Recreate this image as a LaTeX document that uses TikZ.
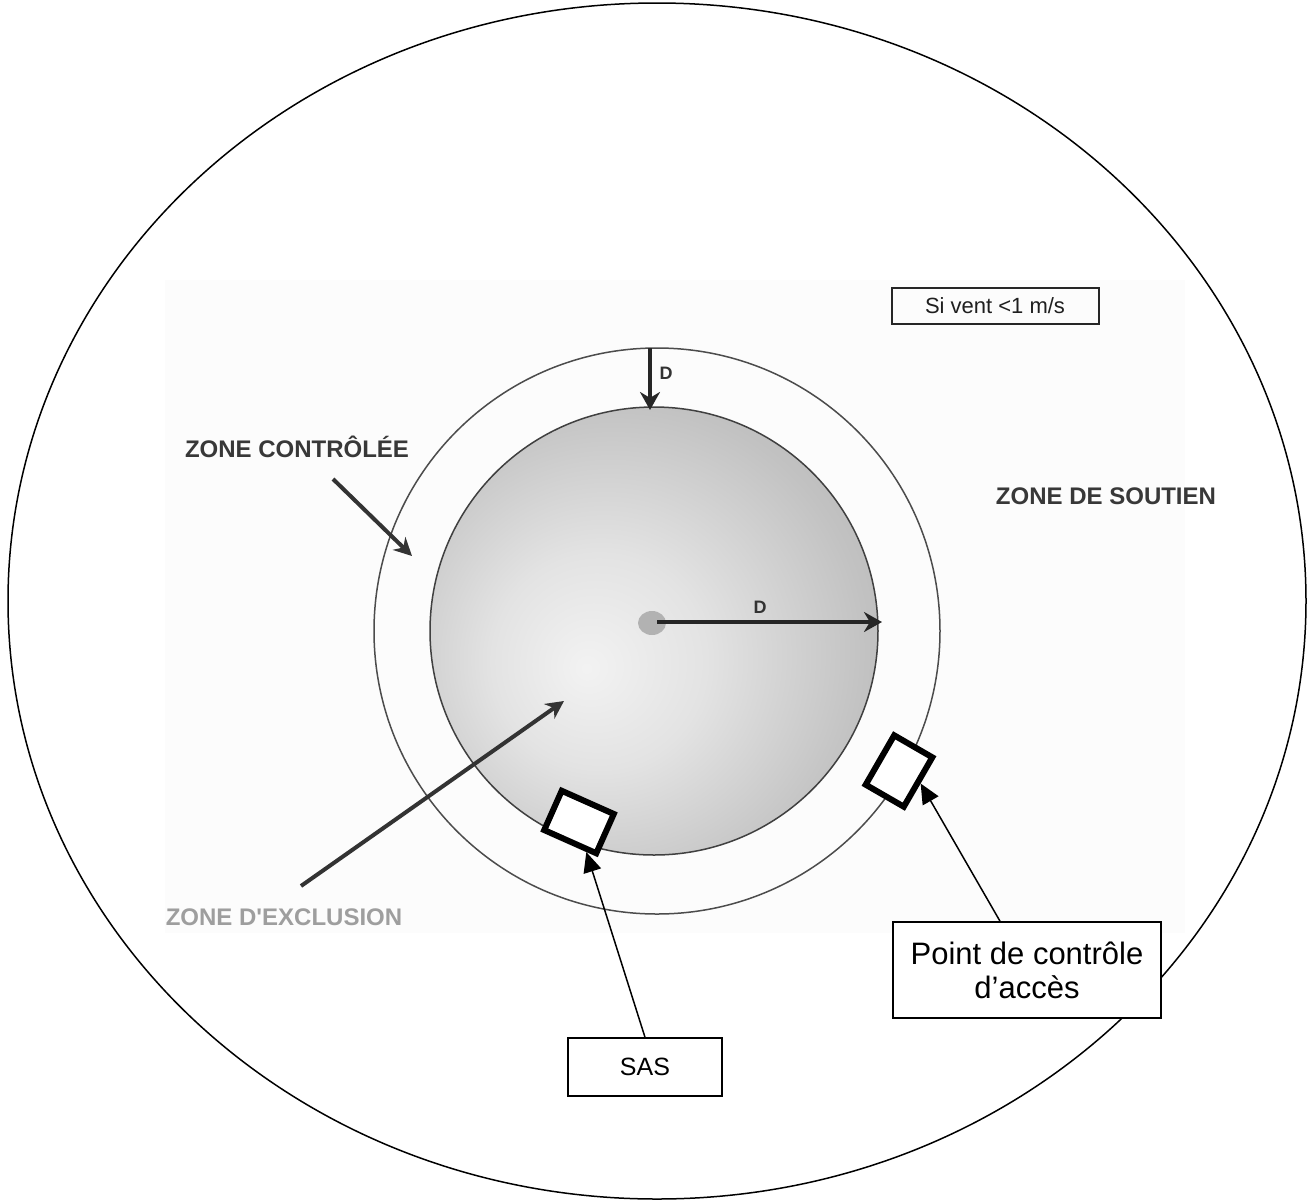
\documentclass[tikz,border=0pt]{standalone}
\usepackage{fontspec}
\setmainfont{Liberation Sans}
\newfontfamily\plainsans{Liberation Sans}
\usetikzlibrary{arrows.meta,calc}
\pgfdeclareradialshading{exclshade}{\pgfpoint{-7.6bp}{-4.2bp}}{color(0bp)=(black!5); color(12bp)=(black!11); color(28bp)=(black!24); color(45bp)=(black!34); color(62bp)=(black!38)}
\begin{document}
\begin{tikzpicture}[x=0.5pt,y=-0.5pt,
  zonelbl/.style={font=\plainsans\bfseries\fontsize{12pt}{14pt}\selectfont, text=black!78, inner sep=0pt},
  dlbl/.style={font=\bfseries\fontsize{9pt}{10pt}\selectfont, text=black!80, inner sep=0pt},
  thickarrow/.style={draw=black!80, line width=2pt, -{Stealth[length=9pt,width=9pt]}},
  darrow/.style={draw=black!85, line width=1.7pt, -{Stealth[length=9pt,width=10pt]}},
  thinarrow/.style={draw=black, line width=0.75pt, -{Triangle[length=10pt,width=9pt]}},
  labelbox/.style={draw=black, line width=0.75pt, fill=white, inner sep=0pt},
  gate/.style={draw=black, line width=3pt, fill=white, inner sep=0pt}
]
\useasboundingbox (0,0) rectangle (1308,1201);
% scan background
\fill[black!1] (165,280) rectangle (1185,933);
% support zone boundary
\draw[line width=0.75pt] (657,601) ellipse [x radius=649, y radius=598];
% controlled zone
\draw[black!70, line width=0.75pt] (657,631) circle [radius=283];
% exclusion zone
\shade[shading=exclshade] (654,631) circle [radius=224];
\draw[black!75, line width=0.75pt] (654,631) circle [radius=224];
% source
\fill[black!30] (652,623) ellipse [x radius=14, y radius=12];

% D arrows
\coordinate (dtop1) at (650,348);
\coordinate (dtop2) at (650,410);
\draw[darrow] (dtop1) -- (dtop2);
\node[dlbl] (d1) at (666,373) {D};
\coordinate (dr1) at (657,622);
\coordinate (dr2) at (882,622);
\draw[darrow, line width=1.6pt] (dr1) -- (dr2);
\node[dlbl] (d2) at (760,607) {D};

% zone labels
\node[zonelbl] (zc) at (297,447) {ZONE CONTRÔLÉE};
\node[zonelbl] (zs) at (1106,496) {ZONE DE SOUTIEN};
\node[zonelbl, text=black!38] (ze) at (284,917) {ZONE D'EXCLUSION};

\coordinate (zca) at (333,479);
\coordinate (zcb) at (412,556);
\draw[thickarrow] (zca) -- (zcb);
\coordinate (zea) at (301,886);
\coordinate (zeb) at (564,701);
\draw[thickarrow] (zea) -- (zeb);

% wind box
\node[draw=black!85, line width=1pt, minimum width=103.5pt, minimum height=18pt, inner sep=0pt,
      font=\fontsize{11pt}{13pt}\selectfont, text=black!88] (vent) at (995,306) {Si vent <1 m/s};

% gates
\node[gate, minimum width=28.5pt, minimum height=21.5pt, rotate=-24] (sasq) at (579,822) {};
\node[gate, minimum width=22pt, minimum height=28.5pt, rotate=-30] (ptq) at (899,771) {};

% label boxes
\node[labelbox, minimum width=77pt, minimum height=29pt, font=\fontsize{12.5pt}{14pt}\selectfont] (sasbox) at (645,1067) {SAS};
\node[labelbox, minimum width=134pt, minimum height=48pt, align=center, font=\fontsize{15.5pt}{17pt}\selectfont] (ptbox) at (1027,970) {Point de contrôle\\d’accès};

% connectors
\draw[thinarrow] (sasbox.north) -- ($(sasq.south east)!0.2!(sasq.south west)$);
\draw[thinarrow] ($(ptbox.north west)!0.4!(ptbox.north east)$) -- (ptq.east);
\end{tikzpicture}
\end{document}
